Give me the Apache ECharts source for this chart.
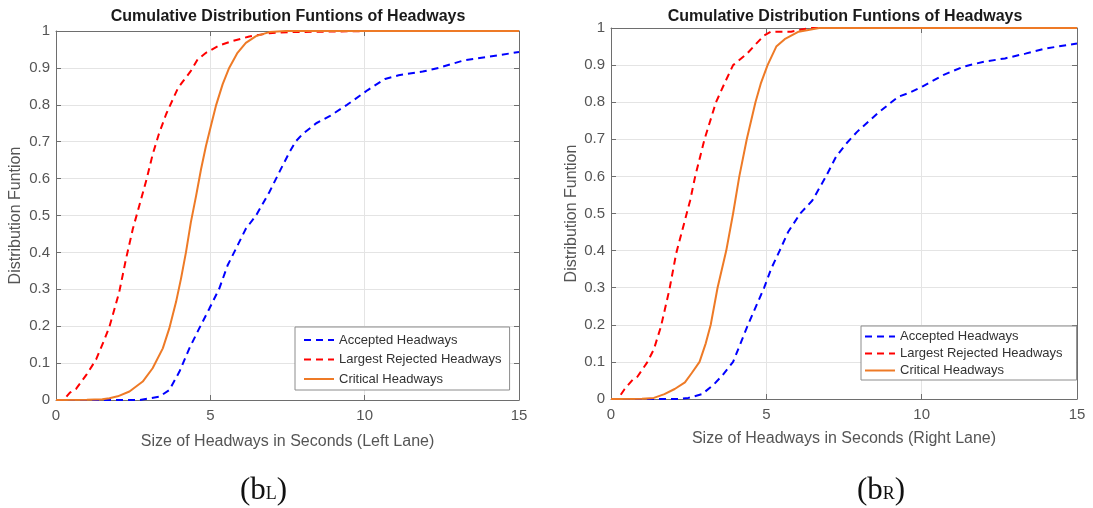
<!DOCTYPE html>
<html><head><meta charset="utf-8">
<script src="https://cdn.jsdelivr.net/npm/echarts@6/dist/echarts.min.js"></script>
<style>html,body{margin:0;padding:0;background:#fff}#c{width:1093px;height:508px}</style>
</head><body><div id="c"></div>
<script>
const seriesNames = ['Accepted Headways', 'Largest Rejected Headways', 'Critical Headways'];
const chartTitle = 'Cumulative Distribution Funtions of Headways';
const yAxisName = 'Distribution Funtion';
const xAxisNames = ['Size of Headways in Seconds (Left Lane)', 'Size of Headways in Seconds (Right Lane)'];
const captionLetters = ['L', 'R'];

// Left lane: [seconds, cumulative probability]
const leftAccepted = [[0,0],[2.7,0],[3.35,0.009],[3.67,0.027],[4.0,0.077],[4.32,0.14],[4.64,0.194],[4.97,0.248],[5.29,0.302],[5.56,0.365],[5.83,0.41],[6.15,0.464],[6.48,0.5],[6.91,0.563],[7.34,0.635],[7.56,0.671],[7.76,0.7],[7.98,0.72],[8.43,0.75],[8.88,0.77],[9.43,0.8],[10.1,0.84],[10.66,0.87],[11.1,0.88],[11.88,0.89],[12.4,0.9],[13.2,0.92],[14.0,0.93],[15,0.943]];
const leftRejected = [[0,0],[0.25,0],[0.45,0.02],[0.65,0.03],[1.0,0.07],[1.3,0.11],[1.55,0.16],[1.73,0.198],[2.05,0.293],[2.27,0.383],[2.49,0.464],[2.7,0.527],[2.94,0.6],[3.13,0.665],[3.33,0.72],[3.57,0.775],[3.95,0.845],[4.1,0.862],[4.37,0.892],[4.59,0.923],[4.86,0.941],[5.29,0.961],[5.72,0.973],[6.26,0.985],[6.91,0.994],[7.56,0.997],[8.5,0.998],[10.2,1],[15,1]];
const leftCritical = [[0,0],[1,0.001],[1.5,0.002],[1.73,0.005],[2.0,0.01],[2.38,0.023],[2.81,0.05],[3.13,0.086],[3.46,0.14],[3.67,0.194],[3.89,0.266],[4.05,0.329],[4.21,0.4],[4.37,0.482],[4.54,0.554],[4.7,0.626],[4.86,0.689],[5.02,0.743],[5.18,0.797],[5.4,0.856],[5.61,0.9],[5.88,0.941],[6.15,0.968],[6.48,0.986],[6.91,0.997],[7.45,1],[15,1]];

// Right lane: [seconds, cumulative probability]
const rightAccepted = [[0,0],[2.16,0],[2.49,0.003],[2.93,0.013],[3.32,0.04],[3.6,0.065],[3.93,0.1],[4.41,0.2],[4.93,0.3],[5.15,0.35],[5.43,0.4],[5.7,0.45],[6.09,0.5],[6.48,0.535],[6.92,0.6],[7.25,0.654],[7.59,0.69],[7.92,0.72],[8.58,0.77],[9.25,0.815],[9.6,0.825],[10.02,0.842],[10.69,0.873],[11.35,0.896],[12.0,0.909],[12.68,0.918],[13.34,0.931],[14.0,0.945],[15,0.958]];
const rightRejected = [[0,0],[0.22,0],[0.44,0.027],[0.72,0.054],[0.85,0.06],[1.16,0.098],[1.38,0.134],[1.61,0.196],[1.88,0.295],[2.1,0.393],[2.38,0.482],[2.55,0.536],[2.71,0.6],[3.01,0.7],[3.38,0.8],[3.65,0.85],[3.93,0.9],[4.37,0.93],[4.7,0.96],[4.93,0.98],[5.15,0.99],[5.8,0.99],[6.4,1],[15,1]];
const rightCritical = [[0,0],[1,0.001],[1.38,0.003],[1.72,0.013],[2.05,0.027],[2.38,0.045],[2.6,0.07],[2.85,0.1],[3.05,0.15],[3.21,0.2],[3.43,0.3],[3.71,0.4],[3.93,0.5],[4.13,0.6],[4.37,0.7],[4.65,0.8],[4.82,0.85],[5.04,0.9],[5.32,0.95],[5.59,0.97],[6.04,0.99],[6.7,1],[15,1]];

const xRange = {min: 0, max: 15, interval: 5};
const yRange = {min: 0, max: 1, interval: 0.1};

const FONT = 'Liberation Sans, Arial, sans-serif';
const AXIS_COLOR = '#6e6e6e';
const LABEL_COLOR = '#555555';
const GRID_COLOR = '#e4e4e4';
const COLORS = ['#0000ff', '#ff0000', '#ee7a26'];

const grids = [
  {left: 56, top: 31, width: 463, height: 369},
  {left: 611, top: 28, width: 466, height: 371}
];

function mainX(g, nameGap) {
  return {
    type: 'value', gridIndex: g, position: 'bottom', ...xRange,
    name: xAxisNames[g], nameLocation: 'middle', nameGap: nameGap,
    nameTextStyle: {fontFamily: FONT, fontSize: 16, color: LABEL_COLOR},
    axisLine: {show: true, onZero: false, lineStyle: {color: AXIS_COLOR, width: 1}},
    axisTick: {show: true, inside: true, length: 5, lineStyle: {color: AXIS_COLOR}},
    axisLabel: {fontFamily: FONT, fontSize: 15, color: LABEL_COLOR, margin: 8},
    splitLine: {show: true, showMinLine: false, showMaxLine: false, lineStyle: {color: GRID_COLOR, width: 1}}
  };
}
function topX(g) {
  return {
    type: 'value', gridIndex: g, position: 'top', ...xRange,
    axisLine: {show: true, onZero: false, lineStyle: {color: AXIS_COLOR, width: 1}},
    axisTick: {show: true, inside: true, length: 5, lineStyle: {color: AXIS_COLOR}},
    axisLabel: {show: false}, splitLine: {show: false}
  };
}
function mainY(g, nameGap) {
  return {
    type: 'value', gridIndex: g, position: 'left', ...yRange,
    name: yAxisName, nameLocation: 'middle', nameGap: nameGap, nameRotate: 90,
    nameTextStyle: {fontFamily: FONT, fontSize: 16, color: LABEL_COLOR},
    axisLine: {show: true, onZero: false, lineStyle: {color: AXIS_COLOR, width: 1}},
    axisTick: {show: true, inside: true, length: 5, lineStyle: {color: AXIS_COLOR}},
    axisLabel: {fontFamily: FONT, fontSize: 15, color: LABEL_COLOR, margin: 6},
    splitLine: {show: true, showMinLine: false, showMaxLine: false, lineStyle: {color: GRID_COLOR, width: 1}}
  };
}
function rightY(g) {
  return {
    type: 'value', gridIndex: g, position: 'right', ...yRange,
    axisLine: {show: true, onZero: false, lineStyle: {color: AXIS_COLOR, width: 1}},
    axisTick: {show: true, inside: true, length: 5, lineStyle: {color: AXIS_COLOR}},
    axisLabel: {show: false}, splitLine: {show: false}
  };
}

function line(name, data, xi, yi, color, dashed) {
  return {
    name: name, type: 'line', data: data, xAxisIndex: xi, yAxisIndex: yi,
    showSymbol: false, symbol: 'none', smooth: false,
    lineStyle: {color: color, width: 2, type: dashed ? [7, 5] : 'solid'},
    itemStyle: {color: color}, animation: false, z: dashed ? 2 : 3
  };
}

const legendBase = {
  orient: 'vertical', data: seriesNames, itemWidth: 30, itemHeight: 12,
  backgroundColor: '#ffffff', borderColor: '#8c8c8c', borderWidth: 1, borderRadius: 0,
  selectedMode: false, align: 'left',
  itemStyle: {opacity: 0}
};

const option = {
  animation: false,
  backgroundColor: '#ffffff',
  title: [0, 1].map(i => ({
    text: chartTitle, left: i === 0 ? 288 : 845, top: 9, padding: 0, textAlign: 'center',
    textStyle: {fontFamily: FONT, fontSize: 16, fontWeight: 'bold', color: '#1a1a1a'}
  })),
  grid: grids,
  xAxis: [mainX(0, 34), mainX(1, 32), topX(0), topX(1)],
  yAxis: [mainY(0, 32), mainY(1, 31), rightY(0), rightY(1)],
  legend: [
    Object.assign({}, legendBase, {left: 295, top: 327, padding: [6, 8, 4, 8], itemGap: 5.5,
      textStyle: {fontFamily: FONT, fontSize: 13, color: '#333', lineHeight: 14}}),
    Object.assign({}, legendBase, {left: 861, top: 326, padding: [4, 14, 3, 3], itemGap: 4,
      textStyle: {fontFamily: FONT, fontSize: 13, color: '#333', lineHeight: 13}})
  ],
  graphic: [0, 1].map(i => ({
    type: 'text', left: i === 0 ? 240 : 857, top: 475,
    style: {
      text: '{a|(b}{s|' + captionLetters[i] + '}{a|)}',
      rich: {
        a: {fontFamily: 'Liberation Serif, Times New Roman, serif', fontSize: 31, fill: '#111', verticalAlign: 'bottom'},
        s: {fontFamily: 'Liberation Serif, Times New Roman, serif', fontSize: 18, fill: '#111', verticalAlign: 'bottom', padding: [0, 0, 3, 0]}
      }
    }
  })),
  series: [
    line(seriesNames[0], leftAccepted, 0, 0, COLORS[0], true),
    line(seriesNames[1], leftRejected, 0, 0, COLORS[1], true),
    line(seriesNames[2], leftCritical, 0, 0, COLORS[2], false),
    line(seriesNames[0], rightAccepted, 1, 1, COLORS[0], true),
    line(seriesNames[1], rightRejected, 1, 1, COLORS[1], true),
    line(seriesNames[2], rightCritical, 1, 1, COLORS[2], false)
  ]
};

const chart = echarts.init(document.getElementById('c'), null, {renderer: 'canvas'});
chart.setOption(option);
</script>
</body></html>
